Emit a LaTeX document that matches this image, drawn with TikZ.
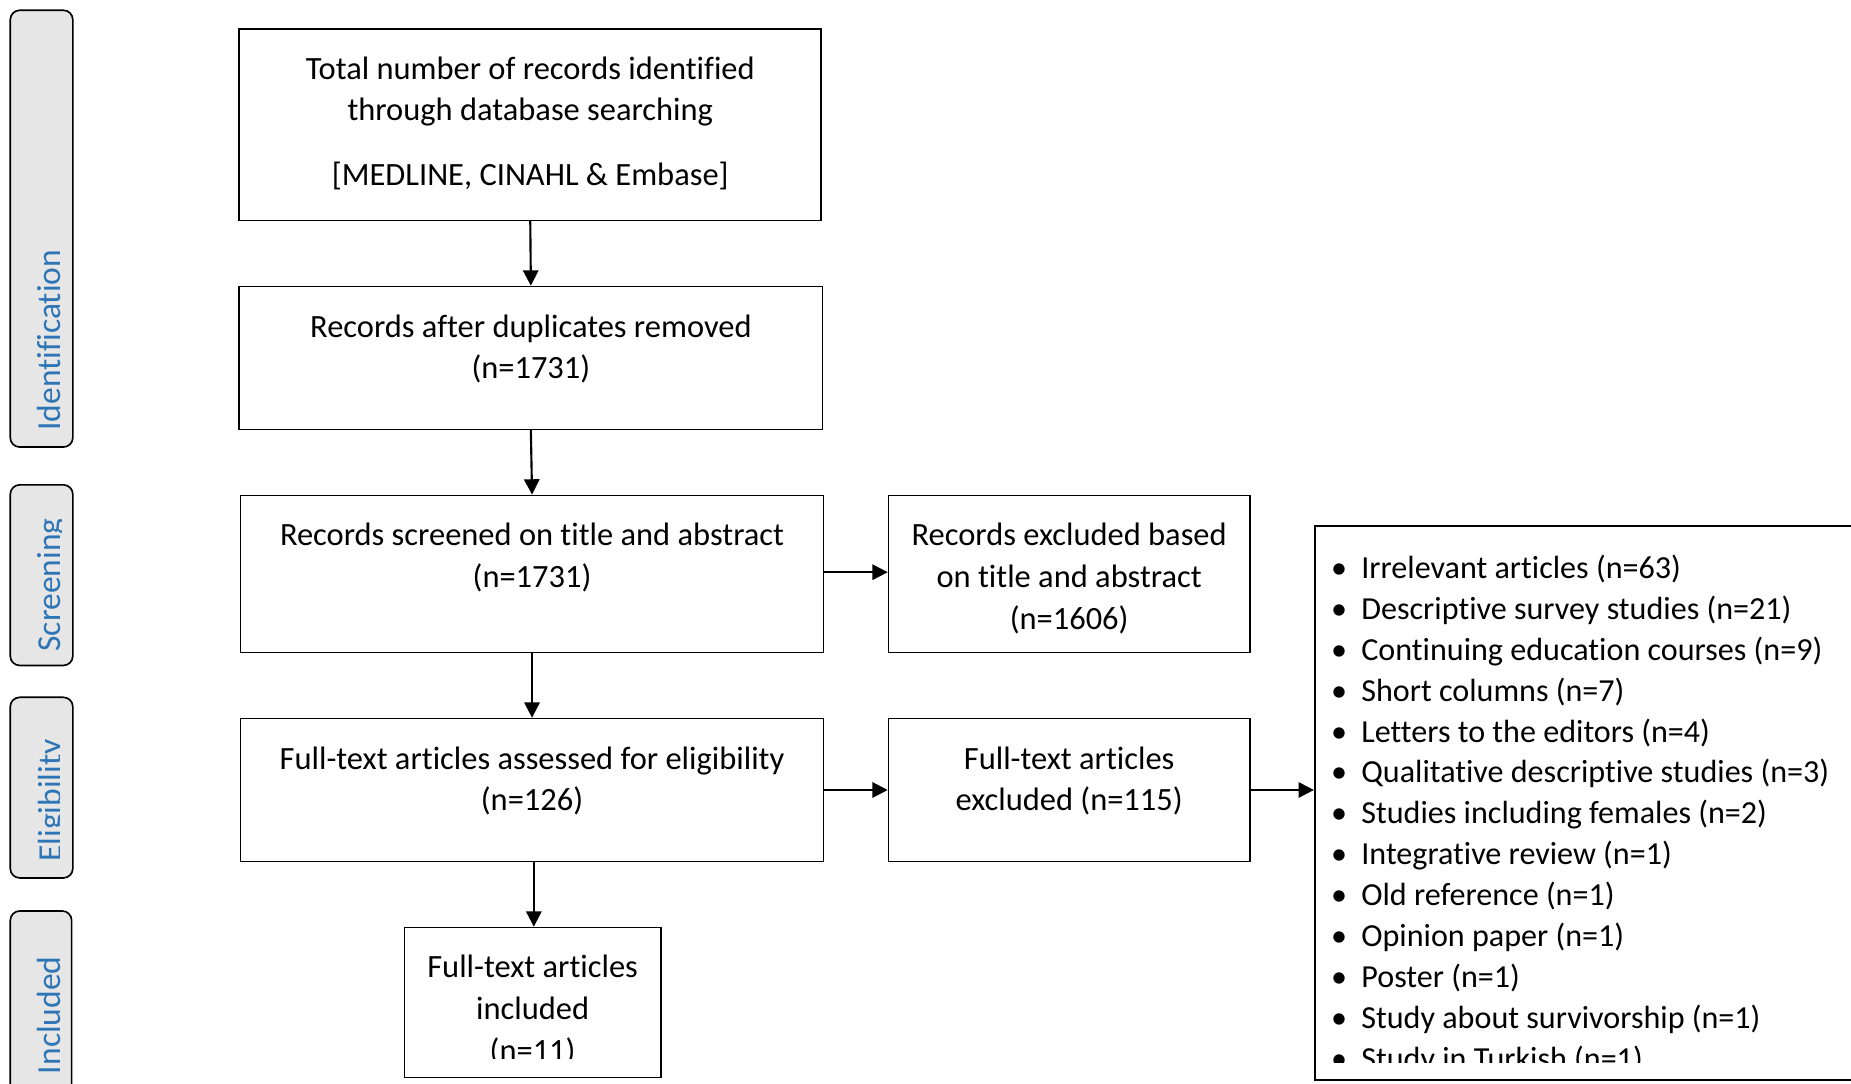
\documentclass[tikz,border=0pt]{standalone}
\usepackage{fontspec}
\setmainfont{Carlito}[Ligatures=NoCommon]
\usetikzlibrary{arrows.meta}
\definecolor{sideblue}{RGB}{46,117,182}
\definecolor{sidegray}{RGB}{230,230,230}
\begin{document}
\begin{tikzpicture}[x=1pt,y=-1pt,
  box/.style={draw, line width=1.4pt, rectangle, inner sep=0pt, anchor=north west},
  sidebox/.style={draw, line width=1.4pt, rectangle, rounded corners=8pt, fill=sidegray, inner sep=0pt, anchor=north west},
  txt/.style={font=\fontsize{27.5}{35.4}\selectfont, align=center, inner sep=0pt, anchor=north},
  listtxt/.style={font=\fontsize{27.2}{34.65}\selectfont, align=left, inner sep=0pt, anchor=north west},
  sidelabel/.style={font=\fontsize{28.4}{32}\selectfont, text=sideblue, rotate=90, inner sep=0pt, anchor=base west},
  arr/.style={line width=1.8pt, -{Triangle[length=13pt,width=13pt]}}
]
\useasboundingbox (0,0) rectangle (1568,918);
\clip (0,0) rectangle (1568,918);

% side phase boxes
\node[sidebox, minimum width=53, minimum height=370] (s1) at (8,8) {};
\node[sidebox, minimum width=53, minimum height=153] (s2) at (8,410) {};
\node[sidebox, minimum width=53, minimum height=153] (s3) at (8,590) {};
\node[sidebox, minimum width=52, minimum height=170] (s4) at (8,771) {};

\node[sidelabel] (l1) at (51.5,365) {Identification};
\begin{scope}
  \clip (10,412) rectangle (52.5,561);
  \node[sidelabel] (l2) at (51.5,552) {Screening};
\end{scope}
\begin{scope}
  \clip (10,592) rectangle (50,741);
  \node[sidelabel] (l3) at (52,730) {Eligibility};
\end{scope}
\node[sidelabel] (l4) at (51.5,910) {Included};

% main boxes
\node[box, minimum width=493, minimum height=162] (b1) at (202,24) {};
\node[box, minimum width=494, minimum height=121] (b2) at (202,242) {};
\node[box, minimum width=494, minimum height=133] (b3) at (203,419) {};
\node[box, minimum width=306, minimum height=133] (b4) at (752,419) {};
\node[box, minimum width=494, minimum height=121] (b5) at (203,608) {};
\node[box, minimum width=306, minimum height=121] (b6) at (752,608) {};
\node[box, minimum width=217, minimum height=127] (b7) at (342,785) {};
\node[box, minimum width=500, minimum height=469] (b8) at (1113,445) {};

% texts
\node[txt] (t1) at ([yshift=-18]b1.north) {\strut Total number of records identified\\through database searching};
\node[txt] (t1b) at ([yshift=-108]b1.north) {\strut [MEDLINE, CINAHL \& Embase]};
\node[txt] (t2) at ([yshift=-18.5]b2.north) {\strut Records after duplicates removed\\(n=1731)};
\node[txt] (t3) at ([yshift=-18.5]b3.north) {\strut Records screened on title and abstract\\(n=1731)};
\node[txt] (t4) at ([yshift=-18.5]b4.north) {\strut Records excluded based\\on title and abstract\\(n=1606)};
\node[txt] (t5) at ([yshift=-18.5]b5.north) {\strut Full-text articles assessed for eligibility\\(n=126)};
\node[txt] (t6) at ([yshift=-18.5]b6.north) {\strut Full-text articles\\excluded (n=115)};
\begin{scope}
  \clip (b7.north west) rectangle ([yshift=17]b7.south east);
  \node[txt] (t7) at ([yshift=-18]b7.north) {\strut Full-text articles\\included\\(n=11)};
\end{scope}
\begin{scope}
  \clip (b8.north west) rectangle ([yshift=15]b8.south east);
  \node[listtxt] (t8) at (1153,465.5) {%
    \strut\llap{\textbullet\hspace{12pt}}Irrelevant articles (n=63)\\
    \llap{\textbullet\hspace{12pt}}Descriptive survey studies (n=21)\\
    \llap{\textbullet\hspace{12pt}}Continuing education courses (n=9)\\
    \llap{\textbullet\hspace{12pt}}Short columns (n=7)\\
    \llap{\textbullet\hspace{12pt}}Letters to the editors (n=4)\\
    \llap{\textbullet\hspace{12pt}}Qualitative descriptive studies (n=3)\\
    \llap{\textbullet\hspace{12pt}}Studies including females (n=2)\\
    \llap{\textbullet\hspace{12pt}}Integrative review (n=1)\\
    \llap{\textbullet\hspace{12pt}}Old reference (n=1)\\
    \llap{\textbullet\hspace{12pt}}Opinion paper (n=1)\\
    \llap{\textbullet\hspace{12pt}}Poster (n=1)\\
    \llap{\textbullet\hspace{12pt}}Study about survivorship (n=1)\\
    \llap{\textbullet\hspace{12pt}}Study in Turkish (n=1)};
\end{scope}

% connectors
\draw[arr] (b1.south) -- (b2.north);
\draw[arr] (b2.south) -- (b3.north);
\draw[arr] (b3.south) -- (b5.north);
\draw[arr] ([xshift=1.5]b5.south) -- ([xshift=1.5]b5.south |- b7.north);
\draw[arr] ([yshift=1.5]b3.east) -- ([yshift=1.5]b3.east -| b4.west);
\draw[arr] (b5.east) -- (b5.east -| b6.west);
\draw[arr] (b6.east) -- (b6.east -| b8.west);
\end{tikzpicture}
\end{document}
